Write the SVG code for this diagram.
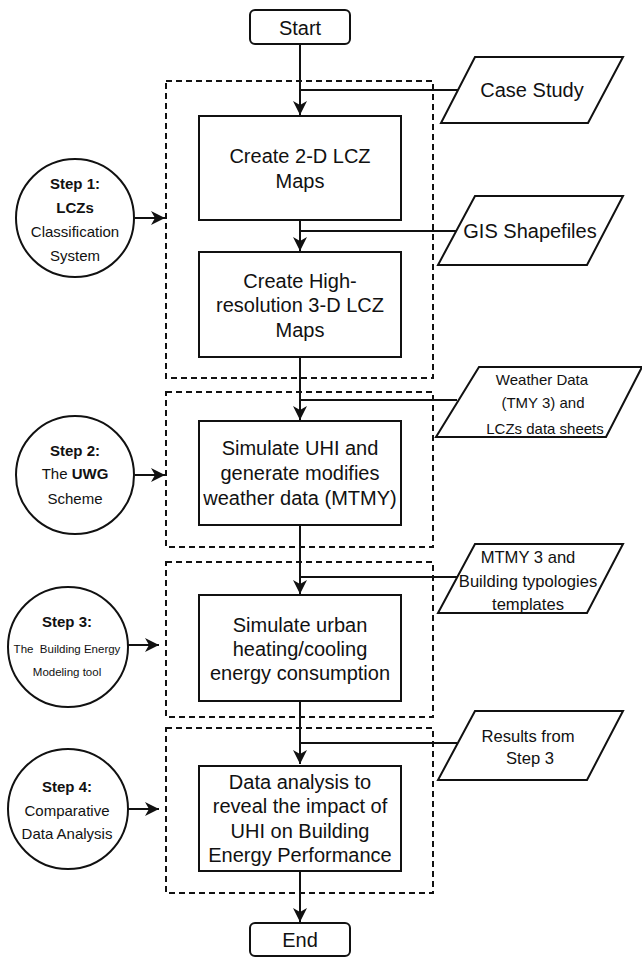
<svg xmlns="http://www.w3.org/2000/svg" width="642" height="957" viewBox="0 0 642 957">
<style>
text{font-family:"Liberation Sans",Arial,sans-serif;fill:#111;text-anchor:middle}
.t20{font-size:20px}
.t15{font-size:15px}
.t17{font-size:16.6px}
.b{font-weight:bold}
.box{fill:#fff;stroke:#111;stroke-width:2}
.dash{fill:none;stroke:#111;stroke-width:2;stroke-dasharray:6 4}
.ln{fill:none;stroke:#111;stroke-width:2}
.arr{fill:none;stroke:#111;stroke-width:2;marker-end:url(#ah)}
</style>
<defs>
<marker id="ah" markerUnits="userSpaceOnUse" markerWidth="16" markerHeight="16" viewBox="-15 -8 16 16" refX="0" refY="0" orient="auto">
<path d="M0,0 L-14,-7 L-10,0 L-14,7 Z" fill="#111"/>
</marker>
</defs>
<rect width="642" height="957" fill="#fff"/>
<g id="groups">
<rect id="group1" class="dash" x="166" y="81" width="267" height="297"/>
<rect id="group2" class="dash" x="166" y="392" width="267" height="155"/>
<rect id="group3" class="dash" x="166" y="562" width="267" height="155"/>
<rect id="group4" class="dash" x="166" y="728" width="267" height="165"/>
</g>
<g id="connectors">
<path class="arr" d="M300,44 V115"/>
<path class="ln" d="M300,90 H458"/>
<path class="arr" d="M300,220 V251"/>
<path class="ln" d="M300,231 H456"/>
<path class="arr" d="M300,357 V420"/>
<path class="ln" d="M300,400 H457"/>
<path class="arr" d="M300,525 V594"/>
<path class="ln" d="M300,577 H457"/>
<path class="arr" d="M300,701 V764"/>
<path class="ln" d="M300,743 H457"/>
<path class="arr" d="M300,871 V922"/>
<path class="arr" d="M135,218 H165"/>
<path class="arr" d="M135,475 H165"/>
<path class="arr" d="M128,645 H159"/>
<path class="arr" d="M128,809 H159"/>
</g>
<g id="start">
<rect class="box" x="250" y="10" width="100" height="34" rx="5"/>
<text class="t20" x="300" y="35">Start</text>
</g>
<g id="create2d">
<rect class="box" x="199" y="116" width="202" height="104"/>
<text class="t20" x="300" y="163">Create 2-D LCZ</text>
<text class="t20" x="300" y="188">Maps</text>
</g>
<g id="create3d">
<rect class="box" x="199" y="252" width="202" height="105"/>
<text class="t20" x="300" y="288">Create High-</text>
<text class="t20" x="300" y="312">resolution 3-D LCZ</text>
<text class="t20" x="300" y="337">Maps</text>
</g>
<g id="simulateUHI">
<rect class="box" x="199" y="421" width="202" height="104"/>
<text class="t20" x="300" y="455">Simulate UHI and</text>
<text class="t20" x="300" y="480">generate modifies</text>
<text class="t20" x="300" y="505">weather data (MTMY)</text>
</g>
<g id="simulateEnergy">
<rect class="box" x="199" y="595" width="202" height="106"/>
<text class="t20" x="300" y="632">Simulate urban</text>
<text class="t20" x="300" y="656">heating/cooling</text>
<text class="t20" x="300" y="680">energy consumption</text>
</g>
<g id="analysis">
<rect class="box" x="199" y="766" width="202" height="105"/>
<text class="t20" x="300" y="789">Data analysis to</text>
<text class="t20" x="300" y="813">reveal the impact of</text>
<text class="t20" x="300" y="838">UHI on Building</text>
<text class="t20" x="300" y="862">Energy Performance</text>
</g>
<g id="end">
<rect class="box" x="250" y="923" width="100" height="33" rx="5"/>
<text class="t20" x="300" y="947">End</text>
</g>
<g id="caseStudy">
<polygon class="box" points="475,57 623,57 588,123 441,123"/>
<text class="t20" x="532" y="97">Case Study</text>
</g>
<g id="gis">
<polygon class="box" points="475,196 623,196 587,265 438,265"/>
<text class="t20" x="530" y="238">GIS Shapefiles</text>
</g>
<g id="weather">
<polygon class="box" points="479,367 642,367 606,437 436,437"/>
<text class="t15" x="542" y="385">Weather Data</text>
<text class="t15" x="543" y="408">(TMY 3) and</text>
<text class="t15" x="545" y="434">LCZs data sheets</text>
</g>
<g id="mtmy">
<polygon class="box" points="475,544 623,544 587,613 438,613"/>
<text class="t17" x="528" y="563">MTMY 3 and</text>
<text class="t17" x="528" y="587">Building typologies</text>
<text class="t17" x="528" y="610">templates</text>
</g>
<g id="results">
<polygon class="box" points="475,711 623,711 587,780 438,780"/>
<text class="t17" x="528" y="742">Results from</text>
<text class="t17" x="530" y="764">Step 3</text>
</g>
<g id="step1">
<circle class="box" cx="75" cy="218" r="59"/>
<text class="t15 b" x="75" y="189">Step 1:</text>
<text class="t15 b" x="75" y="213">LCZs</text>
<text class="t15" x="75" y="237">Classification</text>
<text class="t15" x="75" y="261">System</text>
</g>
<g id="step2">
<circle class="box" cx="75" cy="475" r="59"/>
<text class="t15 b" x="75" y="456">Step 2:</text>
<text class="t15" x="75" y="479">The <tspan class="b">UWG</tspan></text>
<text class="t15" x="75" y="504">Scheme</text>
</g>
<g id="step3">
<circle class="box" cx="68" cy="647" r="60"/>
<text class="t15 b" x="67" y="627">Step 3:</text>
<text x="67" y="653" style="font-size:11.5px;white-space:pre">The  Building Energy</text>
<text x="67" y="676" style="font-size:11.5px">Modeling tool</text>
</g>
<g id="step4">
<circle class="box" cx="68" cy="809" r="60"/>
<text class="t15 b" x="67" y="792">Step 4:</text>
<text class="t15" x="67" y="816">Comparative</text>
<text class="t15" x="67" y="839">Data Analysis</text>
</g>
</svg>
